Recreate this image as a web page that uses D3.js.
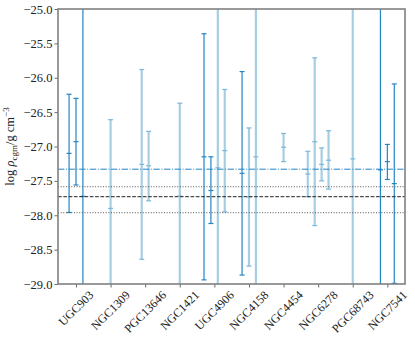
<!DOCTYPE html>
<html><head><meta charset="utf-8">
<script src="https://cdn.jsdelivr.net/npm/d3@7"></script>
<style>body{margin:0;background:#fff} svg{display:block}</style>
</head><body><svg id="c" width="415" height="343"></svg>
<script>
// ---- data ----
const categories = ["UGC903","NGC1309","PGC13646","NGC1421","UGC4906","NGC4158","NGC4454","NGC6278","PGC68743","NGC7541"];
const galaxy  = [0,0,0, 1, 2,2, 3, 4,4,4,4, 5,5,5, 6, 7,7,7,7, 8, 9,9,9];
const logRho  = [-27.10,-26.93,-27.725, -27.90, -27.26,-27.28, -27.72, -27.15,-27.64,-27.31,-27.06, -27.39,-27.735,-27.15, -27.01, -27.40,-26.93,-27.26,-27.20, -27.18, -27.34,-27.22,-27.54];
const errUp   = [0.86,0.63,3.0, 1.29, 1.38,0.50, 1.35, 1.79,0.49,2.5,0.89, 1.48,1.005,2.5, 0.20, 0.33,1.22,0.24,0.43, 2.5, 2.5,0.25,1.45];
const errDown = [0.86,0.63,3.0, 1.29, 1.38,0.51, 1.35, 1.79,0.48,2.5,0.89, 1.48,1.005,2.5, 0.21, 0.33,1.22,0.24,0.42, 2.5, 2.5,0.26,1.45];
const kind    = ["d","d","d", "l", "l","l", "l", "d","d","l","l", "d","l","l", "l", "l","l","l","l", "l", "d","d","d"];
const yTicks  = [-25.0,-25.5,-26.0,-26.5,-27.0,-27.5,-28.0,-28.5,-29.0];
const dashDotLevel = -27.33;
const meanLevel = -27.73;
const bandLevels = [-27.585, -27.963];

// ---- layout ----
const svg = d3.select("#c");
const L = 58, R = 405, T = 9, B = 284;
const x = d3.scaleLinear().domain([-0.52, 9.51]).range([L, R]);
const y = d3.scaleLinear().domain([-29, -25]).range([B, T]);
const font = "'Liberation Serif', 'DejaVu Serif', serif";
const DARK = "#2485c4", LIGHT = "#a6cee3", LIGHTCAP = "#7cb7dc";

// offsets within a category
const counts = {};
galaxy.forEach(g => counts[g] = (counts[g] || 0) + 1);
const seen = {};
const pts = galaxy.map((g, i) => {
  const k = seen[g] = (seen[g] === undefined ? 0 : seen[g] + 1);
  const off = (k - (counts[g] - 1) / 2) * 0.2;
  return {xv: g + off, v: logRho[i], hi: logRho[i] + errUp[i], lo: logRho[i] - errDown[i], kind: kind[i]};
});

svg.append("defs").append("clipPath").attr("id", "clip")
  .append("rect").attr("x", L).attr("y", T).attr("width", R - L).attr("height", B - T);

const plot = svg.append("g").attr("clip-path", "url(#clip)");

// error bars
pts.forEach(p => {
  const g = plot.append("g");
  const dark = p.kind === "d";
  const col = dark ? DARK : LIGHT;
  const cap = dark ? DARK : LIGHTCAP;
  const xp = x(p.xv);
  g.append("line").attr("x1", xp).attr("x2", xp).attr("y1", y(p.hi)).attr("y2", y(p.lo))
    .attr("stroke", col).attr("stroke-width", dark ? 1.2 : 2.2);
  [p.hi, p.lo].forEach(e => g.append("line").attr("x1", xp - 2.5).attr("x2", xp + 2.5)
    .attr("y1", y(e)).attr("y2", y(e)).attr("stroke", cap).attr("stroke-width", 1.2));
  g.append("line").attr("x1", xp - 2.5).attr("x2", xp + 2.5).attr("y1", y(p.v)).attr("y2", y(p.v))
    .attr("stroke", cap).attr("stroke-width", 1.2);
});

// horizontal reference lines
plot.append("line").attr("x1", L).attr("x2", R).attr("y1", y(dashDotLevel)).attr("y2", y(dashDotLevel))
  .attr("stroke", DARK).attr("stroke-width", 1).attr("stroke-dasharray", "6.4,1.6,1,1.6");
bandLevels.forEach(v => plot.append("line").attr("x1", L).attr("x2", R).attr("y1", y(v)).attr("y2", y(v))
  .attr("stroke", "#555").attr("stroke-width", 1).attr("stroke-dasharray", "1,1.65"));
plot.append("line").attr("x1", L).attr("x2", R).attr("y1", y(meanLevel)).attr("y2", y(meanLevel))
  .attr("stroke", "#222").attr("stroke-width", 1).attr("stroke-dasharray", "3.7,1.6");

// axes
const yAxis = d3.axisLeft(y).tickValues(yTicks).tickSize(3.5).tickPadding(2)
  .tickFormat(d => d3.format(".1f")(d).replace("-", "\u2212"));
const ya = svg.append("g").attr("transform", `translate(${L},0)`).call(yAxis);
ya.select(".domain").remove();
ya.selectAll("line").attr("stroke", "#444").attr("stroke-width", 0.8);
ya.selectAll("text").attr("font-family", font).attr("font-size", 12.5).attr("fill", "#222");

const xAxis = d3.axisBottom(x).tickValues(d3.range(categories.length)).tickSize(3.5).tickFormat(() => "");
const xa = svg.append("g").attr("transform", `translate(0,${B})`).call(xAxis);
xa.select(".domain").remove();
xa.selectAll("line").attr("stroke", "#444").attr("stroke-width", 0.8);

// rotated x labels (centered bbox like matplotlib)
const fs = 12;
categories.forEach((c, i) => {
  const t = svg.append("text").text(c).attr("font-family", font).attr("font-size", fs).attr("fill", "#222")
    .attr("text-anchor", "middle").attr("dominant-baseline", "central");
  const len = t.node().getComputedTextLength();
  const bh = (len + fs * 0.7) / Math.SQRT2;
  const top = B + 3.5 + 2.5;
  t.attr("transform", `translate(${x(i)},${top + bh / 2}) rotate(-45)`);
});

// frame
svg.append("rect").attr("x", L).attr("y", T).attr("width", R - L).attr("height", B - T)
  .attr("fill", "none").attr("stroke", "#808080").attr("stroke-width", 1.6);

// y label
const yl = svg.append("text").attr("font-family", font).attr("font-size", 12.5).attr("fill", "#222")
  .attr("text-anchor", "middle")
  .attr("transform", `translate(14,${(T + B) / 2}) rotate(-90)`);
yl.append("tspan").text("log ");
yl.append("tspan").text("\u03c1").attr("font-style", "italic");
yl.append("tspan").text("cgm").attr("font-size", 9).attr("dy", 2.5);
yl.append("tspan").text("/g cm").attr("dy", -2.5);
yl.append("tspan").text("\u22123").attr("font-size", 9).attr("dy", -5.5);
</script></body></html>
